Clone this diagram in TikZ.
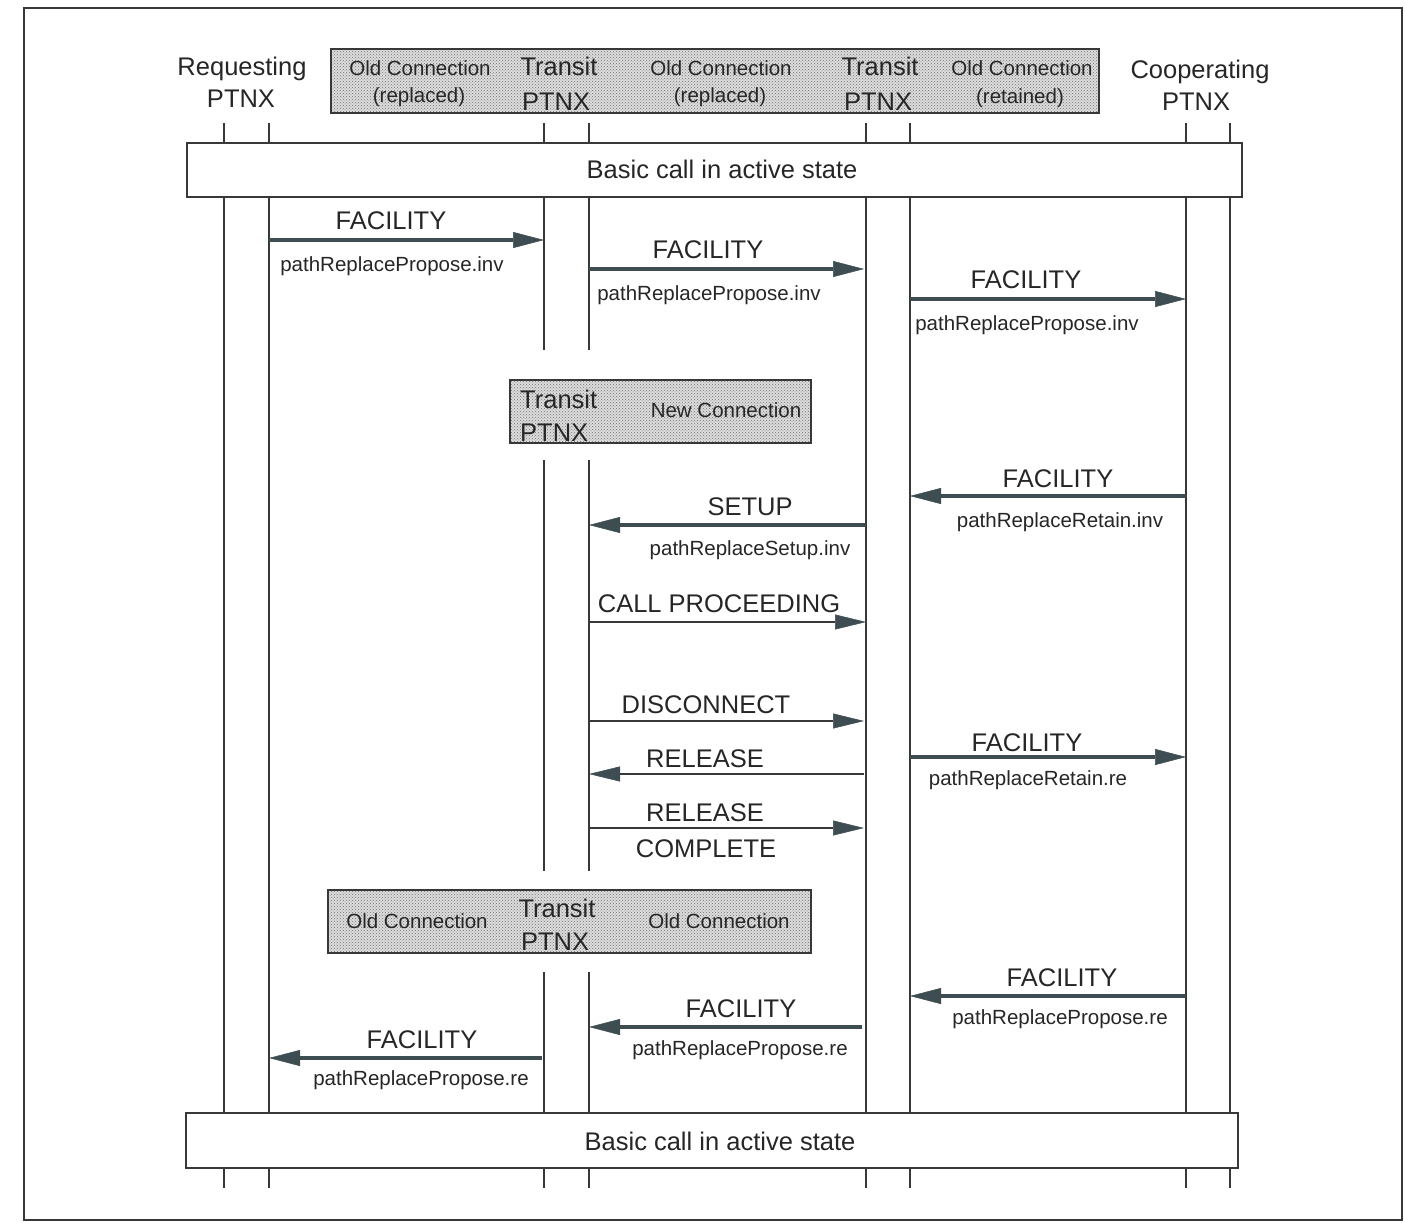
\documentclass[tikz,border=0pt]{standalone}
\usepackage{fontspec}
\setmainfont{Liberation Sans}
\usetikzlibrary{arrows.meta,patterns}
\definecolor{ink}{HTML}{262626}
\definecolor{wire}{HTML}{383838}
\definecolor{slate}{HTML}{3E4D52}
\definecolor{shade}{HTML}{DCDCDC}

\begin{document}
\begin{tikzpicture}[x=1pt,y=-1pt,
  every node/.style={text=ink, inner sep=0pt},
  big/.style={font=\fontsize{25.5}{30}\selectfont, anchor=base},
  small/.style={font=\fontsize{20.5}{24}\selectfont, anchor=base},
  life/.style={draw=wire, line width=1.6pt},
  statebox/.style={draw=wire, line width=1.6pt, fill=white},
  shadebox/.style={draw=wire, line width=1.6pt, preaction={fill=shade},
    pattern=crosshatch dots, pattern color=black!55},
  msgthick/.style={draw=slate, line width=3.4pt,
    -{Triangle[length=31pt,width=16pt,line width=0.5pt]}},
  msgthin/.style={draw=wire, line width=1.5pt,
    -{Triangle[length=31pt,width=15pt,line width=0.5pt,fill=slate,color=slate]}}]

\useasboundingbox (0,0) rectangle (1405,1223);
\draw[draw=wire, line width=2pt] (24,8) rectangle (1402,1220);

% lifeline positions
\coordinate (rA) at (224,0);  \coordinate (rB) at (269,0);
\coordinate (tA) at (544,0);  \coordinate (tB) at (589,0);
\coordinate (uA) at (866,0);  \coordinate (uB) at (910,0);
\coordinate (cA) at (1186,0); \coordinate (cB) at (1230,0);

% column headers
\node[big] (reqname) at (242,75) {Requesting};
\node[big] (reqptnx) at (241,107) {PTNX};
\node[big] (coname) at (1200,78) {Cooperating};
\node[big] (coptnx) at (1196,110) {PTNX};

\path[shadebox] (331,49) rectangle (1099,113);
\node[small] (oc1) at (420,75) {Old Connection};
\node[small] (oc1b) at (419,102) {(replaced)};
\node[big] (tr1) at (559,75) {Transit};
\node[big] (tr1b) at (556,110) {PTNX};
\node[small] (oc2) at (721,75) {Old Connection};
\node[small] (oc2b) at (720,102) {(replaced)};
\node[big] (tr2) at (880,75) {Transit};
\node[big] (tr2b) at (878,110) {PTNX};
\node[small] (oc3) at (1022,76) {Old Connection};
\node[small] (oc3b) at (1020,103) {(retained)};

% header ticks and lifelines
\foreach \l in {rA,rB,tA,tB,uA,uB,cA,cB} {
  \draw[life] (\l |- 0,123) -- (\l |- 0,143);
  \draw[life] (\l |- 0,1168) -- (\l |- 0,1188);
}
\foreach \l in {rA,rB,uA,uB,cA,cB} \draw[life] (\l |- 0,197) -- (\l |- 0,1113);
\foreach \l in {tA,tB} {
  \draw[life] (\l |- 0,197) -- (\l |- 0,350);
  \draw[life] (\l |- 0,460) -- (\l |- 0,871);
  \draw[life] (\l |- 0,972) -- (\l |- 0,1113);
}

% state boxes
\node[statebox, minimum width=1055pt, minimum height=54pt] (topstate) at (714.5,170) {};
\node[big] at (722,178) {Basic call in active state};
\node[statebox, minimum width=1052pt, minimum height=55pt] (botstate) at (712,1140.5) {};
\node[big] at (720,1150) {Basic call in active state};

% new connection box
\path[shadebox] (510,380) rectangle (811,443);
\node[big, anchor=base west] (nt) at (520,408) {Transit};
\node[big, anchor=base west] (ntb) at (520,441) {PTNX};
\node[small] (nc) at (726,417) {New Connection};

% old connection box
\path[shadebox] (328,890) rectangle (811,953);
\node[small] (ol) at (417,928) {Old Connection};
\node[big] (ot) at (557,917) {Transit};
\node[big] (otb) at (555,950) {PTNX};
\node[small] (or) at (719,928) {Old Connection};

% messages
\draw[msgthick] (rB |- 0,240) -- (tA |- 0,240);
\node[big] at (391,229) {FACILITY};
\node[small] at (392,271) {pathReplacePropose.inv};

\draw[msgthick] (tB |- 0,269) -- ([xshift=-2pt]uA |- 0,269);
\node[big] at (708,258) {FACILITY};
\node[small] at (709,300) {pathReplacePropose.inv};

\draw[msgthick] (uB |- 0,299) -- (cA |- 0,299);
\node[big] at (1026,288) {FACILITY};
\node[small] at (1027,330) {pathReplacePropose.inv};

\draw[msgthick] (cA |- 0,496) -- (uB |- 0,496);
\node[big] at (1058,487) {FACILITY};
\node[small] at (1060,527) {pathReplaceRetain.inv};

\draw[msgthick] (uA |- 0,525) -- (tB |- 0,525);
\node[big] at (750,515) {SETUP};
\node[small] at (750,555) {pathReplaceSetup.inv};

\draw[msgthin] (tB |- 0,622) -- (uA |- 0,622);
\node[big] at (719,612) {CALL PROCEEDING};

\draw[msgthin] (tB |- 0,721) -- ([xshift=-2pt]uA |- 0,721);
\node[big] at (706,713) {DISCONNECT};

\draw[msgthin] ([xshift=-2pt]uA |- 0,774) -- (tB |- 0,774);
\node[big] at (705,767) {RELEASE};

\draw[msgthin] (tB |- 0,828) -- ([xshift=-2pt]uA |- 0,828);
\node[big] at (705,821) {RELEASE};
\node[big] at (706,857) {COMPLETE};

\draw[msgthick] (uB |- 0,757) -- (cA |- 0,757);
\node[big] at (1027,751) {FACILITY};
\node[small] at (1028,785) {pathReplaceRetain.re};

\draw[msgthick] (cA |- 0,996) -- (uB |- 0,996);
\node[big] at (1062,986) {FACILITY};
\node[small] at (1060,1024) {pathReplacePropose.re};

\draw[msgthick] ([xshift=-4pt]uA |- 0,1027) -- (tB |- 0,1027);
\node[big] at (741,1017) {FACILITY};
\node[small] at (740,1055) {pathReplacePropose.re};

\draw[msgthick] ([xshift=-2pt]tA |- 0,1058) -- (rB |- 0,1058);
\node[big] at (422,1048) {FACILITY};
\node[small] at (421,1085) {pathReplacePropose.re};

\end{tikzpicture}
\end{document}
